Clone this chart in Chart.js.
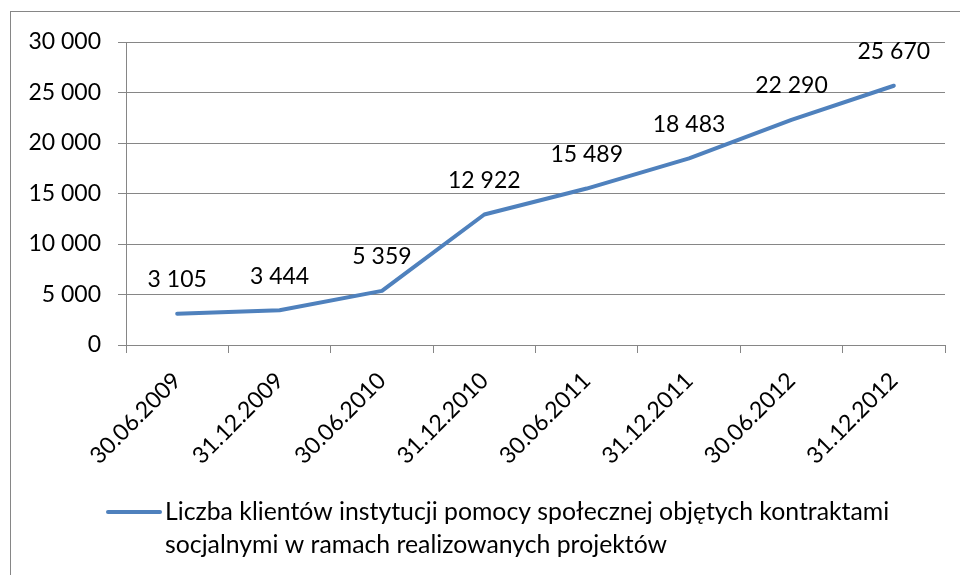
<!DOCTYPE html>
<html>
<head>
<meta charset="utf-8">
<script src="https://cdn.jsdelivr.net/npm/chart.js@4/dist/chart.umd.min.js"></script>
<style>
  html, body { margin: 0; padding: 0; background: #ffffff; }
  #wrap { position: relative; width: 960px; height: 575px; }
</style>
</head>
<body>
<div id="wrap"><canvas id="c" width="960" height="575"></canvas></div>
<script>
const categories = ["30.06.2009", "31.12.2009", "30.06.2010", "31.12.2010", "30.06.2011", "31.12.2011", "30.06.2012", "31.12.2012"];
const seriesValues = [3105, 3444, 5359, 12922, 15489, 18483, 22290, 25670];
const seriesNameLines = ["Liczba klientów instytucji pomocy społecznej objętych kontraktami", "socjalnymi w ramach realizowanych projektów"];
const yMin = 0, yMax = 30000, yStep = 5000;

const FONT = "Lato, Carlito, Calibri, 'Open Sans', sans-serif";
const FSIZE = 23;
const LSIZE = 24.8;
const fmt = v => String(v).replace(/\B(?=(\d{3})+(?!\d))/g, ' ');

const borderPlugin = {
  id: 'outerBorder',
  beforeDraw(chart) {
    const ctx = chart.ctx;
    ctx.save();
    ctx.strokeStyle = '#868686';
    ctx.lineWidth = 1;
    ctx.strokeRect(10.5, 11.5, 1000, 1000);
    ctx.restore();
  }
};

const dataLabelPlugin = {
  id: 'dataLabels',
  afterDatasetsDraw(chart) {
    const ctx = chart.ctx;
    const meta = chart.getDatasetMeta(0);
    ctx.save();
    ctx.font = FSIZE + 'px ' + FONT;
    ctx.fillStyle = '#000000';
    ctx.textAlign = 'center';
    ctx.textBaseline = 'middle';
    meta.data.forEach((pt, i) => {
      ctx.fillText(fmt(chart.data.datasets[0].data[i]), pt.x, pt.y - 34);
    });
    ctx.restore();
  }
};

const legendPlugin = {
  id: 'customLegend',
  afterDraw(chart) {
    const ctx = chart.ctx;
    ctx.save();
    ctx.strokeStyle = '#4F81BD';
    ctx.lineWidth = 4;
    ctx.lineCap = 'round';
    ctx.beginPath();
    ctx.moveTo(108, 512);
    ctx.lineTo(160, 512);
    ctx.stroke();
    ctx.font = LSIZE + 'px ' + FONT;
    ctx.fillStyle = '#000000';
    ctx.textAlign = 'left';
    ctx.textBaseline = 'middle';
    seriesNameLines.forEach((line, i) => {
      ctx.fillText(line, 165, 512 + i * 33);
    });
    ctx.restore();
  }
};

new Chart(document.getElementById('c'), {
  type: 'line',
  data: {
    labels: categories,
    datasets: [{
      label: seriesNameLines.join(' '),
      data: seriesValues,
      borderColor: '#4F81BD',
      backgroundColor: '#4F81BD',
      borderWidth: 4,
      pointRadius: 0,
      pointHoverRadius: 0,
      tension: 0,
      fill: false,
      borderCapStyle: 'round',
      borderJoinStyle: 'round'
    }]
  },
  options: {
    responsive: false,
    animation: false,
    events: [],
    layout: { padding: { left: 0, right: 15, top: 42, bottom: 100 } },
    plugins: {
      legend: { display: false },
      tooltip: { enabled: false },
      title: { display: false }
    },
    scales: {
      x: {
        type: 'category',
        offset: true,
        grid: {
          display: true,
          offset: true,
          drawOnChartArea: false,
          drawTicks: true,
          tickLength: 8,
          color: '#868686',
          lineWidth: 1
        },
        border: { display: true, color: '#868686', width: 1 },
        ticks: {
          autoSkip: false,
          minRotation: 45,
          maxRotation: 45,
          padding: 14,
          color: '#000000',
          font: { family: FONT, size: FSIZE }
        },
        afterFit(scale) { scale.height = 130; }
      },
      y: {
        min: yMin,
        max: yMax,
        grid: {
          color: '#868686',
          lineWidth: 1,
          drawTicks: true,
          tickLength: 8
        },
        border: { display: true, color: '#868686', width: 1 },
        ticks: {
          stepSize: yStep,
          padding: 17,
          color: '#000000',
          font: { family: FONT, size: FSIZE },
          callback: v => fmt(v)
        },
        afterFit(scale) { scale.width = 126; }
      }
    }
  },
  plugins: [borderPlugin, dataLabelPlugin, legendPlugin]
});
</script>
</body>
</html>
